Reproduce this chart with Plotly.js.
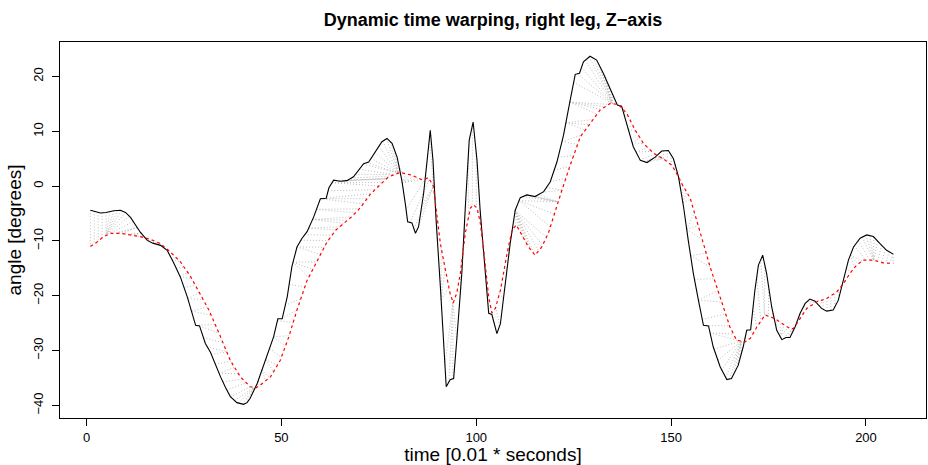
<!DOCTYPE html>
<html><head><meta charset="utf-8">
<script src="https://cdn.plot.ly/plotly-3.0.1.min.js"></script>
<style>html,body{margin:0;padding:0;background:#fff}#chart{width:928px;height:465px}</style>
</head><body><div id="chart"></div>
<script>
// Query series (black, solid): time index and angle
const queryTime = [1,2,3.6,5,7,8.7,10,11.3,12.5,13.8,15.6,17,19,20.7,22.3,24.1,25.9,27.5,28,29,30.5,31.8,33,34.4,35.7,36.9,38.6,40.3,41.2,42,43.8,45,46.3,48,49.1,50.2,51.5,52.7,54,55.3,56.6,58.3,60,61.5,62.2,63.4,65.1,66.8,68.5,69.8,71.1,72.4,74.1,75.8,77.1,78.4,79.7,80.9,81.8,82.4,83.5,84.4,85.2,86.5,87.4,88.2,88.9,89.7,90.8,91.6,92.3,93.3,94.2,95,96.3,97.2,98.2,99.2,100.2,101,102.3,103.2,104,105.3,106.2,107.4,108.7,110,111.3,113,115.1,117.3,119,120.7,122.4,124.1,125.4,126.5,127.5,129.2,130.9,132.6,134.4,136.2,137.3,138.6,140.3,142.1,143.8,145.9,147.6,149.3,150.6,151.9,153.2,154.4,155.7,157,158.3,159.6,160.8,162.6,164.3,165.5,167.2,168.5,169.4,170.4,171.5,172.4,173.5,174.5,175.8,177.1,178.4,179.5,180.5,181.8,183.1,184.4,185.6,186.9,188.6,189.9,191.6,192.9,194.2,195.5,196.8,198.5,200.2,201.9,203.6,205.3,207];
const queryAngle = [-4.4,-4.6,-4.9,-4.8,-4.5,-4.4,-4.8,-5.7,-7.0,-8.4,-9.9,-10.4,-10.8,-11.7,-13.9,-16.6,-20.3,-23.9,-25.4,-25.5,-28.7,-30.3,-32.5,-34.8,-36.8,-38.4,-39.5,-39.8,-39.5,-38.7,-36.0,-33.5,-31.1,-27.5,-24.2,-24.2,-20.2,-14.7,-11.1,-9.5,-8.3,-5.6,-2.3,-2.2,-0.3,1.1,0.9,1.0,1.7,2.9,4.1,4.4,6.3,8.1,8.7,7.8,5.3,1.1,-3.2,-6.5,-6.7,-8.6,-7.4,-1.3,4.7,10.2,4.7,-6.2,-18.4,-27.5,-36.6,-35.3,-35.1,-28.1,-15.9,-3.8,8.4,11.7,4.7,-4.4,-15.3,-23.2,-23.4,-26.9,-25.1,-18.4,-10.5,-4.4,-2.1,-1.6,-1.9,-1.0,0.8,4.4,9.3,15.7,20.4,20.6,22.7,23.7,23.0,20.6,17.8,14.8,14.6,11.4,7.2,4.7,4.3,5.3,6.4,6.5,5.0,1.7,-3.8,-9.9,-15.9,-20.8,-25.4,-25.5,-29.3,-33.0,-35.3,-35.1,-32.7,-29.3,-26.3,-26.2,-19.0,-14.4,-12.6,-15.9,-22.0,-26.3,-28.0,-27.6,-27.6,-25.7,-23.2,-21.4,-20.6,-21.0,-22.3,-22.8,-22.6,-20.8,-17.2,-13.5,-11.1,-9.5,-8.9,-9.2,-10.5,-11.7,-12.4];

// Reference series (red, dashed)
const referenceTime = [1,2.7,4.4,6.2,8.7,11.3,13.8,16.4,19,21.5,24.1,26.7,29.2,31.4,34.4,36.9,39.5,42,43.5,44.6,47.2,49.7,51.9,54,56.6,58.7,61.7,64,66,68,70.3,72.8,75.4,77.5,80.5,83.5,86,87.8,89,89.9,90.8,91.6,93.3,94.1,95,95.9,97.2,98.5,99.3,100.2,101,101.9,103.2,104,104.9,106.2,107.9,109.2,110.3,111.7,113.4,115.1,116.8,118.5,120.3,122,124.1,126.7,129.2,131.8,134.4,136.5,138.6,140.8,142.9,145.5,148,150.2,151.9,152.7,154.9,156.6,158.3,160,161.7,163.4,165.1,166.8,169,170.3,172,174.1,176.7,178.8,180.5,181.4,183.1,184.8,187.4,189.9,192.5,194.2,195.9,197.6,199.3,201.9,204.4,207];
const referenceAngle = [-11.0,-10.2,-9.2,-8.6,-8.6,-8.9,-9.2,-9.7,-10.5,-12.0,-13.8,-16.5,-19.6,-22.6,-27.5,-31.8,-34.8,-36.6,-36.8,-36.3,-34.8,-31.8,-27.5,-22.6,-17.2,-14.2,-10.2,-8.0,-6.8,-5.6,-3.9,-1.5,0.3,1.7,2.5,2.0,1.2,1.5,0.0,-5.5,-10.5,-13.5,-19.6,-21.3,-19.5,-16.0,-8.5,-4.0,-3.4,-4.0,-6.5,-11.7,-20.2,-23.1,-22.3,-19.0,-12.3,-8.0,-7.1,-8.9,-11.1,-12.6,-11.1,-8.6,-4.4,-0.7,3.8,9.0,11.4,13.9,15.1,14.9,13.3,10.2,7.8,6.0,5.0,3.8,1.7,0.5,-2.2,-6.2,-10.5,-14.7,-18.4,-22.0,-25.7,-28.1,-28.4,-27.8,-25.7,-23.5,-24.2,-25.2,-26.0,-26.0,-24.2,-22.3,-21.1,-20.5,-19.3,-17.8,-15.9,-14.4,-13.5,-13.5,-14.0,-14.1];

// Warping path: [query index, reference index]
const warpPairs = [[1,1],[2,2],[3,3],[4,4],[5,5],[6,5],[7,5],[8,5],[9,5],[10,5],[11,5],[12,6],[13,7],[13,8],[13,9],[14,10],[14,11],[14,12],[15,13],[15,14],[16,15],[16,16],[16,17],[17,18],[18,19],[19,20],[20,21],[21,22],[22,23],[22,24],[23,25],[24,26],[24,27],[25,28],[26,29],[26,30],[27,31],[27,32],[28,33],[29,34],[30,35],[31,36],[32,36],[33,37],[34,38],[34,39],[35,40],[36,41],[37,42],[38,43],[39,43],[40,43],[41,43],[42,43],[43,43],[44,44],[44,45],[45,46],[45,47],[46,48],[46,49],[47,50],[48,51],[48,52],[49,53],[50,54],[51,55],[52,56],[53,57],[53,58],[53,59],[54,60],[54,61],[55,62],[56,63],[57,64],[57,65],[58,66],[58,67],[58,68],[59,69],[59,70],[60,71],[60,72],[61,73],[62,74],[63,75],[63,76],[64,77],[65,77],[66,77],[67,77],[68,78],[69,79],[70,79],[71,80],[72,80],[73,80],[74,80],[75,80],[76,80],[77,80],[78,80],[79,80],[80,81],[81,82],[81,83],[81,84],[81,85],[81,86],[82,87],[83,88],[84,89],[85,89],[86,89],[87,89],[88,89],[89,89],[90,90],[91,91],[91,92],[91,93],[92,94],[93,94],[94,94],[95,94],[96,95],[96,96],[97,97],[98,98],[99,99],[100,100],[101,101],[102,102],[103,103],[104,104],[105,104],[106,105],[107,106],[108,107],[109,108],[109,109],[110,110],[110,111],[110,112],[110,113],[110,114],[110,115],[110,116],[110,117],[110,118],[111,119],[111,120],[111,121],[112,121],[113,121],[114,121],[115,121],[116,121],[117,122],[118,122],[119,123],[120,124],[121,125],[122,126],[122,127],[123,128],[123,129],[123,130],[124,131],[124,132],[124,133],[124,134],[125,135],[126,135],[127,135],[128,135],[129,135],[130,135],[131,135],[132,135],[133,135],[134,135],[135,135],[136,136],[137,137],[138,138],[138,139],[139,140],[139,141],[140,142],[140,143],[141,144],[141,145],[142,146],[143,147],[144,148],[145,148],[146,148],[147,148],[148,148],[149,149],[150,150],[151,151],[152,152],[153,153],[153,154],[153,155],[154,156],[154,157],[154,158],[155,159],[155,160],[156,161],[157,162],[157,163],[158,164],[159,165],[160,166],[160,167],[161,168],[162,168],[163,168],[164,168],[165,168],[166,168],[167,168],[168,168],[169,169],[169,170],[170,171],[171,172],[172,173],[173,174],[174,174],[175,175],[176,176],[177,177],[178,178],[178,179],[178,180],[179,181],[180,181],[181,181],[182,182],[183,183],[183,184],[184,185],[185,186],[185,187],[186,188],[187,189],[188,189],[189,189],[190,190],[191,191],[192,192],[193,193],[194,194],[194,195],[195,196],[196,197],[196,198],[196,199],[197,200],[198,201],[199,202],[200,202],[201,202],[202,202],[203,202],[204,203],[205,204],[206,205],[207,206],[207,207]];

const xTicks = [0, 50, 100, 150, 200];
const yTicks = [-40, -30, -20, -10, 0, 10, 20];

function valueAt(ts, vs, t) {
  if (t <= ts[0]) return vs[0];
  for (let i = 1; i < ts.length; i++) {
    if (t <= ts[i]) {
      const f = (t - ts[i-1]) / (ts[i] - ts[i-1]);
      return vs[i-1] + f * (vs[i] - vs[i-1]);
    }
  }
  return vs[vs.length - 1];
}

const cx = [], cy = [];
warpPairs.forEach(([q, r]) => {
  cx.push(q, r, null);
  cy.push(valueAt(queryTime, queryAngle, q), valueAt(referenceTime, referenceAngle, r), null);
});

const FONT = 'Liberation Sans, Arial, Helvetica, sans-serif';
const traces = [
  {x: cx, y: cy, mode: 'lines', type: 'scatter', hoverinfo: 'skip',
   line: {color: '#bdbdbd', width: 1, dash: '1px,2px'}, connectgaps: false},
  {x: queryTime, y: queryAngle, mode: 'lines', type: 'scatter',
   line: {color: '#000000', width: 1.1}},
  {x: referenceTime, y: referenceAngle, mode: 'lines', type: 'scatter',
   line: {color: '#ff0000', width: 1.2, dash: '3px,3px'}}
];

const axisCommon = {
  showgrid: false, zeroline: false, showline: true, mirror: true,
  linecolor: '#000', linewidth: 1, ticks: 'outside', ticklen: 7,
  tickcolor: '#000', tickwidth: 1, tickfont: {family: FONT, size: 13, color: '#000'}
};

const layout = {
  width: 928, height: 465,
  margin: {l: 60, r: 2, t: 42, b: 47},
  paper_bgcolor: '#fff', plot_bgcolor: '#fff',
  showlegend: false,
  font: {family: FONT, color: '#000'},
  title: {text: 'Dynamic time warping, right leg, Z\u2212axis', x: 0.5, xref: 'paper',
          y: 1 - 20/465, yref: 'container', yanchor: 'middle',
          font: {family: FONT, size: 18, weight: 'bold', color: '#000'}},
  xaxis: Object.assign({}, axisCommon, {
    range: [-6.8, 215.4], tickmode: 'array', tickvals: xTicks, ticktext: xTicks.map(String),
    title: {text: 'time [0.01 * seconds]', font: {family: FONT, size: 19, color: '#000'}, standoff: 2}
  }),
  yaxis: Object.assign({}, axisCommon, {
    range: [-42.3, 26.3], tickmode: 'array', tickvals: yTicks,
    ticktext: yTicks.map(v => v < 0 ? '\u2212' + Math.abs(v) : String(v)),
    tickangle: -90, ticklabelstandoff: 4,
    title: {text: 'angle [degrees]', font: {family: FONT, size: 19, color: '#000'}, standoff: 4}
  })
};

Plotly.newPlot('chart', traces, layout, {displayModeBar: false, staticPlot: true});
</script>
</body></html>
